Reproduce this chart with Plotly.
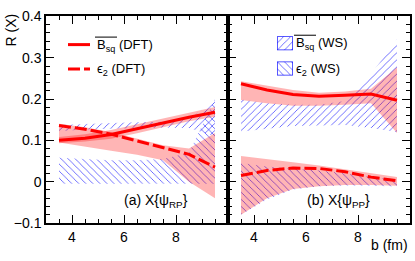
import plotly.graph_objects as go

# ---------------- data ----------------
b_fm = [3.5, 4.5, 5.5, 6.5, 7.5, 8.5, 9.5]

# panel (a): X{psi_RP}
a_bsq_dft = [0.100, 0.105, 0.114, 0.128, 0.143, 0.156, 0.168]
a_bsq_dft_lo = [0.093, 0.097, 0.104, 0.117, 0.132, 0.146, 0.157]
a_bsq_dft_hi = [0.108, 0.115, 0.125, 0.139, 0.154, 0.167, 0.181]
a_e2_dft = [0.136, 0.127, 0.115, 0.099, 0.083, 0.066, 0.035]
a_e2_dft_lo = [0.095, 0.085, 0.075, 0.065, 0.052, 0.000, -0.040]
a_e2_dft_hi = [0.140, 0.132, 0.120, 0.104, 0.088, 0.080, 0.118]
a_bsq_ws_lo = [0.122, 0.126, 0.128, 0.130, 0.131, 0.130, 0.110]
a_bsq_ws_hi = [0.137, 0.140, 0.142, 0.144, 0.145, 0.150, 0.200]
a_e2_ws_lo = [-0.005, -0.005, -0.005, -0.005, -0.005, -0.005, -0.005]
a_e2_ws_hi = [0.058, 0.055, 0.052, 0.052, 0.055, 0.070, 0.200]

# panel (b): X{psi_PP}
b_bsq_dft = [0.237, 0.222, 0.211, 0.207, 0.209, 0.212, 0.197]
b_bsq_dft_lo = [0.198, 0.190, 0.184, 0.184, 0.186, 0.190, 0.118]
b_bsq_dft_hi = [0.243, 0.232, 0.222, 0.215, 0.218, 0.225, 0.277]
b_e2_dft = [0.015, 0.027, 0.033, 0.032, 0.024, 0.011, 0.002]
b_e2_dft_lo = [-0.080, -0.040, -0.018, -0.011, -0.008, -0.008, -0.010]
b_e2_dft_hi = [0.062, 0.055, 0.047, 0.039, 0.030, 0.021, 0.011]
b_bsq_ws_lo = [0.121, 0.128, 0.135, 0.136, 0.137, 0.130, 0.120]
b_bsq_ws_hi = [0.199, 0.190, 0.186, 0.186, 0.195, 0.260, 0.345]
b_e2_ws_lo = [-0.080, -0.043, -0.019, -0.011, -0.009, -0.010, -0.012]
b_e2_ws_hi = [0.045, 0.037, 0.031, 0.027, 0.020, 0.011, 0.005]

y_tickvals = [-0.1, 0.0, 0.1, 0.2, 0.3, 0.4]
y_ticktext = ["\u22120.1", "0", "0.1", "0.2", "0.3", "0.4"]
x_tickvals = [4, 6, 8]
x_ticktext = ["4", "6", "8"]
swatch_x = [0]
swatch_y = [1]

# ---------------- style ----------------
FONT = "Liberation Sans, Arial, sans-serif"
RED = "#ff0000"
PINK = "rgba(255,0,0,0.29)"
BLUE = "#2020ff"
W, H = 415, 261


def px(x):
    return x / W


def py(y):
    return 1 - y / H


fig = go.Figure()
PAT = dict(size=5, solidity=0.16, fgcolor=BLUE, fgopacity=0.8, bgcolor="rgba(0,0,0,0)")


def band(lo, hi, xa, ya, fillcolor=None, shape=None):
    xs = b_fm + b_fm[::-1]
    ys = hi + lo[::-1]
    kw = dict(x=xs, y=ys, xaxis=xa, yaxis=ya, mode="lines", line=dict(width=0),
              fill="toself", hoverinfo="skip", showlegend=False)
    if shape:
        kw["fillcolor"] = "rgba(0,0,0,0)"
        kw["fillpattern"] = dict(shape=shape, **PAT)
    else:
        kw["fillcolor"] = fillcolor
    fig.add_trace(go.Scatter(**kw))


for xa, ya, d in [("x", "y", "a"), ("x2", "y2", "b")]:
    g = globals()
    band(g[d + "_bsq_ws_lo"], g[d + "_bsq_ws_hi"], xa, ya, shape="/")
    band(g[d + "_e2_ws_lo"], g[d + "_e2_ws_hi"], xa, ya, shape="\\")
    band(g[d + "_bsq_dft_lo"], g[d + "_bsq_dft_hi"], xa, ya, fillcolor=PINK)
    band(g[d + "_e2_dft_lo"], g[d + "_e2_dft_hi"], xa, ya, fillcolor=PINK)
    fig.add_trace(go.Scatter(x=b_fm, y=g[d + "_bsq_dft"], xaxis=xa, yaxis=ya, mode="lines",
                             line=dict(color=RED, width=3), showlegend=False))
    fig.add_trace(go.Scatter(x=b_fm, y=g[d + "_e2_dft"], xaxis=xa, yaxis=ya, mode="lines",
                             line=dict(color=RED, width=3, dash="12px,4px"), showlegend=False))

# legend swatches (hatched boxes) on their own hidden axes
for i, (shape, y0, y1) in enumerate([("/", 30, 45), ("\\", 57, 72)]):
    n = 3 + i
    fig.add_trace(go.Bar(x=swatch_x, y=swatch_y, width=1, xaxis=f"x{n}", yaxis=f"y{n}",
                         marker=dict(color="rgba(0,0,0,0)",
                                     line=dict(color=BLUE, width=1.5),
                                     pattern=dict(shape=shape, **PAT)),
                         hoverinfo="skip", showlegend=False, cliponaxis=False))
    fig.layout[f"xaxis{n}"] = dict(domain=[px(277), px(293)], range=[-0.5, 0.5], visible=False,
                                   anchor=f"y{n}", fixedrange=True)
    fig.layout[f"yaxis{n}"] = dict(domain=[py(y1), py(y0)], range=[0, 1], visible=False,
                                   anchor=f"x{n}", fixedrange=True)

ydom = [py(229), py(9)]
axis_common = dict(showline=True, linecolor="black", linewidth=1.5, mirror="ticks",
                   ticks="inside", ticklen=8, tickwidth=1, tickcolor="black",
                   showgrid=False, zeroline=False, fixedrange=True,
                   tickfont=dict(family=FONT, size=14, color="black"))
xminor = dict(ticks="inside", ticklen=4, tickmode="linear", tick0=3, dtick=0.5,
              tickcolor="black", tickwidth=1, showgrid=False)
yminor = dict(ticks="inside", ticklen=4, tickmode="linear", tick0=0, dtick=0.02,
              tickcolor="black", tickwidth=1, showgrid=False)

fig.update_layout(
    xaxis=dict(domain=[px(46), px(228)], range=[3, 10], anchor="y", tickmode="array",
               tickvals=x_tickvals, ticktext=x_ticktext, minor=xminor, **axis_common),
    yaxis=dict(domain=ydom, range=[-0.1, 0.4], anchor="x", tickmode="array",
               tickvals=y_tickvals, ticktext=y_ticktext, minor=yminor, **axis_common),
    xaxis2=dict(domain=[px(228), px(410)], range=[3, 10], anchor="y2", tickmode="array",
                tickvals=x_tickvals, ticktext=x_ticktext, minor=xminor, **axis_common),
    yaxis2=dict(domain=ydom, range=[-0.1, 0.4], anchor="x2", tickmode="array",
                tickvals=y_tickvals, ticktext=y_ticktext, showticklabels=False,
                minor=yminor, **axis_common),
)

annots = []


def txt(x, y, s, size=14, xanchor="left", **kw):
    annots.append(dict(x=px(x), y=py(y), xref="paper", yref="paper", text=s, showarrow=False,
                       xanchor=xanchor, yanchor="middle",
                       font=dict(family=FONT, size=size, color="black"), **kw))


LEG = 13
txt(95, 40, "B<sub>sq</sub> (DFT)", size=LEG)
txt(95, 66, "\u03f5<sub>2</sub> (DFT)", size=LEG)
txt(294, 38, "B<sub>sq</sub> (WS)", size=LEG)
txt(294, 65, "\u03f5<sub>2</sub> (WS)", size=LEG)
txt(122, 206, "(a) X{\u03c8<sub>RP</sub>}", size=14)
txt(305, 206, "(b) X{\u03c8<sub>PP</sub>}", size=14)
txt(410, 253, "b (fm)", size=14, xanchor="right")
annots.append(dict(x=px(11), y=py(24), xref="paper", yref="paper", text="R (X)",
                   showarrow=False, textangle=-90, xanchor="center", yanchor="middle",
                   font=dict(family=FONT, size=14, color="black")))

shapes = [
    dict(type="line", xref="paper", yref="paper", x0=px(68), x1=px(90), y0=py(39), y1=py(39),
         line=dict(color=RED, width=3)),
    dict(type="line", xref="paper", yref="paper", x0=px(68), x1=px(90), y0=py(65), y1=py(65),
         line=dict(color=RED, width=3, dash="12px,4px")),
    # overlines above B_sq in the legends
    dict(type="line", xref="paper", yref="paper", x0=px(95), x1=px(117), y0=py(31), y1=py(31),
         line=dict(color="black", width=1)),
    dict(type="line", xref="paper", yref="paper", x0=px(294), x1=px(316), y0=py(29), y1=py(29),
         line=dict(color="black", width=1)),
]

fig.update_layout(width=W, height=H, margin=dict(l=0, r=0, t=0, b=0),
                  paper_bgcolor="white", plot_bgcolor="white",
                  annotations=annots, shapes=shapes, showlegend=False,
                  font=dict(family=FONT))

fig.write_html("out.html", config={"displayModeBar": False},
               post_script="document.body.style.margin='0';")
